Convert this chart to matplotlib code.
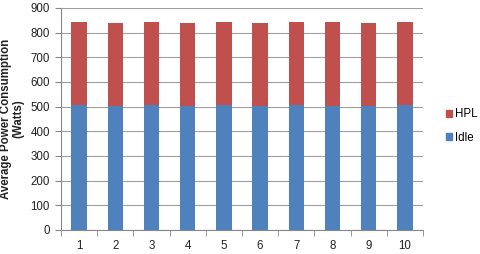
import matplotlib
matplotlib.use("Agg")
import matplotlib.pyplot as plt
from matplotlib.patches import Patch

plt.rcParams['font.family'] = ['Liberation Sans', 'DejaVu Sans']

categories = ['1', '2', '3', '4', '5', '6', '7', '8', '9', '10']
idle = [505, 502, 505, 503, 505, 502, 505, 504, 503, 505]
hpl = [338, 336, 340, 338, 338, 339, 338, 339, 338, 340]
yticks = [0, 100, 200, 300, 400, 500, 600, 700, 800, 900]

blue = '#4F81BD'
red = '#C0504D'
fs = 8.3

fig = plt.figure(figsize=(4.81, 2.54), dpi=100)
ax = fig.add_axes([61/481, 24/254, (423-61)/481, (230-8)/254])

x = list(range(len(categories)))
ax.bar(x, idle, width=0.42, color=blue, zorder=3)
ax.bar(x, hpl, bottom=idle, width=0.42, color=red, zorder=3)

ax.set_xlim(-0.5, len(categories) - 0.5)
ax.set_ylim(0, 900)
ax.set_yticks(yticks)
ax.set_xticks(x)
ax.set_xticklabels(categories)
ax.set_xticks([i - 0.5 for i in range(len(categories) + 1)], minor=True)
ax.tick_params(axis='x', which='major', length=0, labelsize=fs, pad=7, colors='#222222')
ax.tick_params(axis='x', which='minor', length=4, color='#888888', direction='out')
ax.tick_params(axis='y', length=4, color='#888888', labelsize=fs, pad=4, labelcolor='#222222')
ax.grid(axis='y', color='#A0A0A0', linewidth=0.8, zorder=0)
for s in ['top', 'right']:
    ax.spines[s].set_visible(False)
ax.spines['left'].set_color('#888888')
ax.spines['bottom'].set_color('#888888')

fig.text(12/481, 1 - 119/254, 'Average Power Consumption\n(Watts)', fontsize=fs, fontweight='bold',
         color='#222222', rotation=90, ha='center', va='center', multialignment='center',
         linespacing=1.0)

handles = [Patch(color=red, label='HPL'), Patch(color=blue, label='Idle')]
fig.legend(handles=handles, loc='center left', bbox_to_anchor=(441/481, 1 - 126/254),
           frameon=False, fontsize=fs, handlelength=0.55, handleheight=0.55,
           handletextpad=0.3, labelspacing=1.0, borderaxespad=0)

fig.savefig('out.png', dpi=100)
